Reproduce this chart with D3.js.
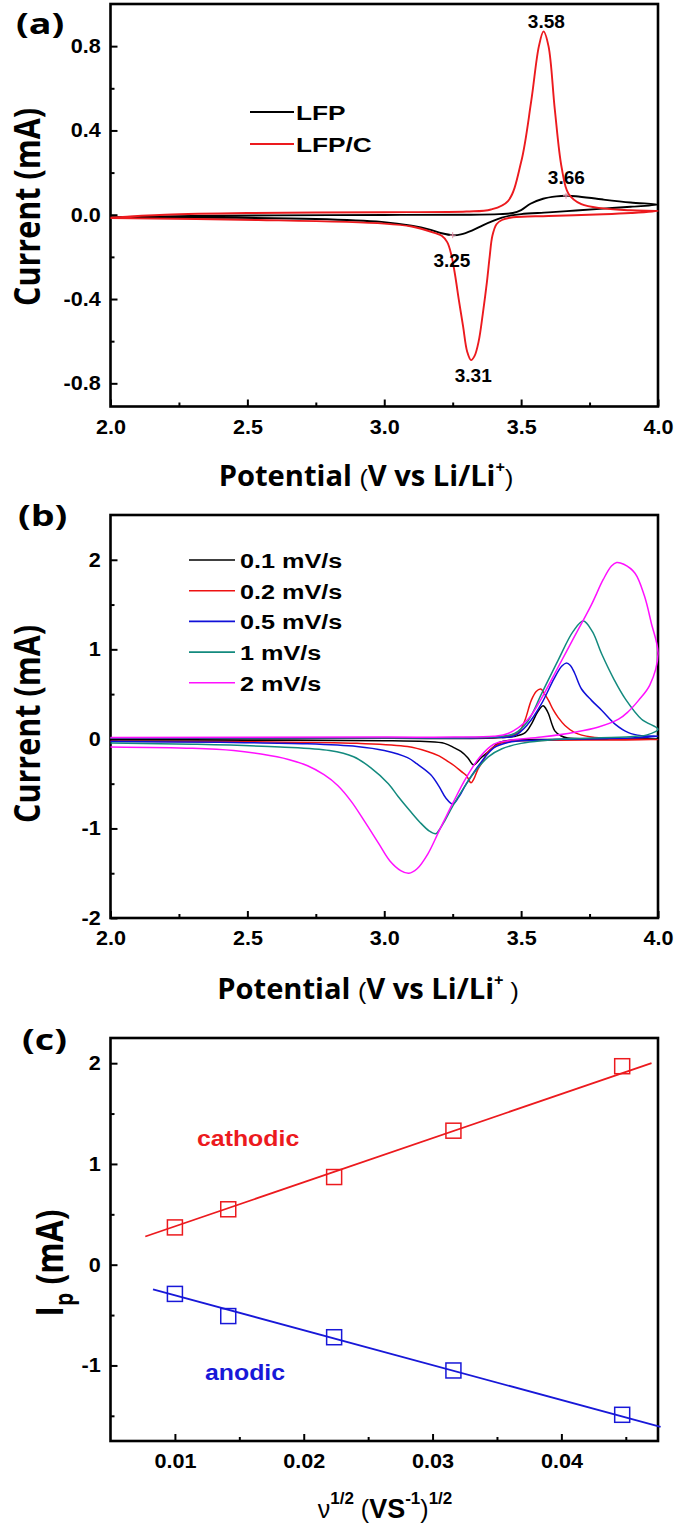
<!DOCTYPE html>
<html><head><meta charset="utf-8">
<script src="https://cdn.jsdelivr.net/npm/d3@7"></script>
<style>body{margin:0;background:#fff}</style>
</head><body><svg id="c" width="675" height="1529" xmlns="http://www.w3.org/2000/svg"></svg>
<script>
// ---------- DATA ----------
const cvXTicks = [2.0, 2.5, 3.0, 3.5, 4.0];
const cvXMinor = [2.25, 2.75, 3.25, 3.75];
const aYTicks = [-0.8, -0.4, 0.0, 0.4, 0.8];
const aYMinor = [-0.6, -0.2, 0.2, 0.6];
const bYTicks = [-2, -1, 0, 1, 2];
const bYMinor = [-1.5, -0.5, 0.5, 1.5];
const cXTicks = [0.01, 0.02, 0.03, 0.04];
const cXMinor = [0.015, 0.025, 0.035, 0.045];
const cYTicks = [-1, 0, 1, 2];
const cYMinor = [-1.5, -0.5, 0.5, 1.5];

// Panel (a): [potential V, current mA], forward sweep then reverse sweep
const lfp = [[2.0,-0.012],[2.3,-0.006],[2.6,-0.003],[3.0,-0.001],[3.3,0.0],[3.42,0.003],[3.47,0.008],[3.5,0.022],[3.534,0.052],[3.58,0.076],[3.629,0.087],[3.664,0.09],[3.7,0.088],[3.8,0.072],[3.9,0.058],[4.0,0.048],
  [3.9,0.038],[3.8,0.029],[3.7,0.02],[3.6,0.011],[3.5,0.003],[3.46,-0.004],[3.43,-0.014],[3.40,-0.028],[3.36,-0.05],[3.32,-0.075],[3.28,-0.093],[3.25,-0.097],[3.21,-0.088],[3.17,-0.072],[3.1,-0.052],[2.99,-0.034],[2.75,-0.02],[2.4,-0.014],[2.0,-0.012]];
const lfpC = [[2.0,-0.014],[2.2,0.0],[2.5,0.008],[3.0,0.012],[3.3,0.015],[3.39,0.025],[3.452,0.065],[3.50,0.25],[3.537,0.54],[3.565,0.8],[3.582,0.87],[3.6,0.8],[3.623,0.5],[3.648,0.224],[3.673,0.1],[3.72,0.05],[3.8,0.03],[3.9,0.021],[4.0,0.018],
  [3.9,0.008],[3.8,0.002],[3.6,-0.006],[3.47,-0.012],[3.43,-0.025],[3.41,-0.045],[3.395,-0.1],[3.385,-0.2],[3.375,-0.32],[3.36,-0.47],[3.345,-0.6],[3.33,-0.67],[3.317,-0.69],[3.303,-0.65],[3.288,-0.53],[3.272,-0.4],[3.258,-0.28],[3.245,-0.19],[3.23,-0.13],[3.21,-0.1],[3.18,-0.085],[3.1,-0.056],[3.0,-0.042],[2.54,-0.025],[2.0,-0.016]];
const aSeries = ["LFP", "LFP/C"];
const peakText = ["3.58", "3.66", "3.25", "3.31"];
const peakTextAt = [[3.592,0.885],[3.665,0.145],[3.247,-0.247],[3.325,-0.794]];
const peakMarks = [[3.25,-0.097],[3.664,0.09]];

// Panel (b): scan rates
const bSeries = ["0.1 mV/s", "0.2 mV/s", "0.5 mV/s", "1 mV/s", "2 mV/s"];
const cv01 = [[2.0,0.005],[3.0,0.006],[3.4,0.01],[3.48,0.03],[3.515,0.07],[3.54,0.18],[3.56,0.3],[3.58,0.37],[3.59,0.34],[3.6,0.28],[3.612,0.17],[3.623,0.09],[3.645,0.035],[3.67,0.01],[3.8,0.002],[4.0,0.0],
  [3.8,-0.003],[3.6,-0.006],[3.46,-0.015],[3.42,-0.04],[3.403,-0.08],[3.378,-0.15],[3.354,-0.21],[3.326,-0.29],[3.305,-0.21],[3.28,-0.14],[3.256,-0.1],[3.22,-0.05],[3.15,-0.03],[3.0,-0.02],[2.5,-0.015],[2.0,-0.012]];
const cv02 = [[2.0,0.008],[3.0,0.01],[3.4,0.015],[3.45,0.03],[3.49,0.07],[3.513,0.2],[3.537,0.43],[3.555,0.53],[3.572,0.557],[3.586,0.5],[3.6,0.43],[3.618,0.32],[3.635,0.24],[3.66,0.15],[3.696,0.07],[3.757,0.02],[3.85,0.003],[4.0,-0.008],
  [3.8,-0.012],[3.6,-0.016],[3.47,-0.025],[3.427,-0.045],[3.40,-0.09],[3.378,-0.15],[3.36,-0.25],[3.342,-0.34],[3.327,-0.45],[3.317,-0.49],[3.3,-0.41],[3.28,-0.36],[3.256,-0.3],[3.232,-0.25],[3.2,-0.19],[3.158,-0.14],[3.085,-0.085],[2.9,-0.05],[2.5,-0.032],[2.0,-0.025]];
const cv05 = [[2.0,0.01],[3.0,0.012],[3.4,0.016],[3.476,0.035],[3.525,0.165],[3.574,0.39],[3.62,0.67],[3.648,0.81],[3.665,0.846],[3.68,0.82],[3.696,0.73],[3.72,0.56],[3.757,0.43],[3.794,0.32],[3.843,0.165],[3.892,0.07],[3.94,0.036],[4.0,0.03],
  [3.9,0.01],[3.7,-0.002],[3.55,-0.015],[3.452,-0.04],[3.40,-0.1],[3.354,-0.26],[3.30,-0.5],[3.272,-0.65],[3.25,-0.727],[3.225,-0.66],[3.2,-0.53],[3.17,-0.40],[3.12,-0.28],[3.085,-0.21],[3.0,-0.13],[2.9,-0.085],[2.718,-0.055],[2.4,-0.038],[2.0,-0.03]];
const cv1 = [[2.0,0.012],[3.0,0.014],[3.33,0.015],[3.43,0.03],[3.476,0.06],[3.525,0.2],[3.574,0.5],[3.635,0.877],[3.69,1.2],[3.727,1.315],[3.76,1.2],[3.794,0.95],[3.84,0.66],[3.88,0.45],[3.94,0.22],[4.0,0.107],
  [3.96,0.045],[3.9,0.025],[3.7,0.004],[3.574,-0.02],[3.5,-0.05],[3.43,-0.11],[3.38,-0.2],[3.33,-0.37],[3.29,-0.55],[3.25,-0.75],[3.22,-0.92],[3.2,-1.02],[3.188,-1.06],[3.165,-1.03],[3.13,-0.93],[3.093,-0.8],[3.05,-0.64],[3.015,-0.5],[2.95,-0.32],[2.888,-0.2],[2.8,-0.13],[2.62,-0.09],[2.3,-0.06],[2.0,-0.046]];
const cv2 = [[2.0,0.015],[3.0,0.02],[3.256,0.02],[3.40,0.03],[3.452,0.06],[3.525,0.22],[3.574,0.45],[3.635,0.8],[3.696,1.15],[3.757,1.5],[3.8,1.78],[3.83,1.93],[3.849,1.97],[3.875,1.95],[3.916,1.85],[3.95,1.6],[3.975,1.3],[4.0,0.95],
  [3.97,0.6],[3.929,0.43],[3.89,0.3],[3.856,0.22],[3.78,0.13],[3.696,0.075],[3.574,0.02],[3.452,-0.02],[3.40,-0.06],[3.35,-0.2],[3.30,-0.43],[3.25,-0.72],[3.20,-1.03],[3.16,-1.28],[3.12,-1.45],[3.09,-1.5],[3.06,-1.47],[3.02,-1.36],[2.98,-1.17],[2.93,-0.93],[2.88,-0.7],[2.83,-0.52],[2.78,-0.4],[2.72,-0.3],[2.65,-0.23],[2.55,-0.17],[2.45,-0.13],[2.3,-0.105],[2.0,-0.09]];

// Panel (c): peak current vs square root of scan rate
const sqrtRate = [0.01, 0.01414, 0.02236, 0.03162, 0.04472];
const cathodicIp = [0.37, 0.55, 0.87, 1.33, 1.97];
const anodicIp = [-0.29, -0.51, -0.72, -1.05, -1.49];
const cathodicFit = [[0.0077, 0.28], [0.0470, 2.0]];
const anodicFit = [[0.0083, -0.245], [0.0477, -1.61]];

// ---------- DRAW ----------
const svg = d3.select("#c");
svg.append("rect").attr("width",675).attr("height",1529).attr("fill","#fff");

const TICKFONT = "'Liberation Sans', Arial, sans-serif";
const TITLEFONT = "'Open Sans', 'Noto Sans', sans-serif";
const L = 110.5, R = 658;
const fmt = f => (d => d3.format(f)(d).replace("\u2212", "-"));

function axes(x, y, top, bottom, xMaj, xMin, yMaj, yMin, xFmt, yFmt) {
  const gx = svg.append("g").attr("transform", `translate(0,${bottom})`)
    .call(d3.axisBottom(x).tickValues(xMaj).tickSize(-7).tickPadding(13).tickFormat(xFmt));
  const gx2 = svg.append("g").attr("transform", `translate(0,${bottom})`)
    .call(d3.axisBottom(x).tickValues(xMin).tickSize(-4).tickFormat(""));
  const gy = svg.append("g").attr("transform", `translate(${L},0)`)
    .call(d3.axisLeft(y).tickValues(yMaj).tickSize(-7).tickPadding(9).tickFormat(yFmt));
  const gy2 = svg.append("g").attr("transform", `translate(${L},0)`)
    .call(d3.axisLeft(y).tickValues(yMin).tickSize(-4).tickFormat(""));
  [gx, gx2, gy, gy2].forEach(g => {
    g.select(".domain").remove();
    g.selectAll("line").attr("stroke", "#000").attr("stroke-width", 2);
    g.selectAll("text").attr("font-family", TICKFONT).attr("font-weight", "bold")
      .attr("font-size", 20).attr("fill", "#000").attr("transform", "scale(1.08,1)");
  });
  svg.append("rect").attr("x", L).attr("y", top).attr("width", R - L).attr("height", bottom - top)
    .attr("fill", "none").attr("stroke", "#000").attr("stroke-width", 2.6);
}

function stext(x, y, sx, txt, size, family, weight, color, anchor) {
  return svg.append("text").attr("transform", `translate(${x},${y}) scale(${sx},1)`)
    .attr("font-family", family).attr("font-weight", weight).attr("font-size", size)
    .attr("fill", color || "#000").attr("text-anchor", anchor || "start").text(txt);
}

function panelLabel(t, x, y) {
  stext(x, y, 1.3, t, 29, TITLEFONT, "bold");
}

function yTitle(cx, cy, size, parts) {
  const t = svg.append("text").attr("transform", `translate(${cx},${cy}) scale(1.2,1) rotate(-90)`)
    .attr("text-anchor", "middle").attr("font-family", TITLEFONT).attr("font-weight", "bold")
    .attr("font-size", size).attr("fill", "#000");
  parts(t);
}

function potentialTitle(x, y, spaceBefore) {
  const t = stext(x, y, 1.04, null, 28, TITLEFONT, "bold", "#000", "middle");
  t.append("tspan").text("Potential ");
  t.append("tspan").text("(").attr("font-weight", "normal").attr("font-family", TICKFONT).attr("font-size", 24);
  t.append("tspan").text("V vs Li/Li");
  t.append("tspan").text("+").attr("font-size", 16).attr("dy", -13);
  t.append("tspan").text((spaceBefore ? " " : "") + ")").attr("font-weight", "normal").attr("font-family", TICKFONT)
    .attr("font-size", 24).attr("dy", 13);
}

// ----- Panel (a) -----
const xA = d3.scaleLinear().domain([2, 4]).range([L, R]);
const yA = d3.scaleLinear().domain([-0.91, 1.0]).range([406.5, 4]);
axes(xA, yA, 4, 406.5, cvXTicks, cvXMinor, aYTicks, aYMinor, fmt(".1f"), fmt(".1f"));
const lineA = d3.line().x(d => xA(d[0])).y(d => yA(d[1])).curve(d3.curveCatmullRom.alpha(0.5));
const aColors = ["#000000", "#ec1a1e"];
[lfp, lfpC].forEach((s, i) => {
  svg.append("path").attr("d", lineA(s)).attr("fill", "none").attr("stroke", aColors[i]).attr("stroke-width", 1.9);
});
peakMarks.forEach(p => {
  const px = xA(p[0]), py = yA(p[1]);
  svg.append("path").attr("d", `M${px-3},${py}H${px+3}M${px},${py-3}V${py+3}`).attr("stroke", "#e890a8").attr("stroke-width", 1);
});
peakText.forEach((t, i) => {
  stext(xA(peakTextAt[i][0]), yA(peakTextAt[i][1]), 1.0, t, 19, TICKFONT, "bold", "#000", "middle");
});
aSeries.forEach((n, i) => {
  const ly = 112 + i * 32;
  svg.append("line").attr("x1", 250).attr("x2", 294).attr("y1", ly).attr("y2", ly)
    .attr("stroke", aColors[i]).attr("stroke-width", 1.9);
  stext(296, ly + 8, 1.25, n, 21, TICKFONT, "bold");
});
panelLabel("(a)", 16, 34);
yTitle(40, 207, 30.5, t => t.text("Current (mA)"));
potentialTitle(366, 486, false);

// ----- Panel (b) -----
const yB = d3.scaleLinear().domain([-2, 2.5]).range([918, 515]);
const xB = xA.copy();
axes(xB, yB, 515, 918, cvXTicks, cvXMinor, bYTicks, bYMinor, fmt(".1f"), fmt("d"));
const lineB = d3.line().x(d => xB(d[0])).y(d => yB(d[1])).curve(d3.curveCatmullRom.alpha(0.5));
const bColors = ["#000000", "#ee1111", "#1010d8", "#138a7e", "#ff10ff"];
[cv01, cv02, cv05, cv1, cv2].forEach((s, i) => {
  svg.append("path").attr("d", lineB(s)).attr("fill", "none").attr("stroke", bColors[i]).attr("stroke-width", 1.5);
});
bSeries.forEach((n, i) => {
  const ly = 560 + i * 30.7;
  svg.append("line").attr("x1", 189).attr("x2", 235).attr("y1", ly).attr("y2", ly)
    .attr("stroke", bColors[i]).attr("stroke-width", 1.6);
  stext(240, ly + 8, 1.2, n, 21, TICKFONT, "bold");
});
panelLabel("(b)", 18, 526);
yTitle(40, 724, 30.5, t => t.text("Current (mA)"));
potentialTitle(368, 999, true);

// ----- Panel (c) -----
const xC = d3.scaleLinear().domain([0.005, 0.0475]).range([L, R]);
const yC = d3.scaleLinear().domain([-1.75, 2.25]).range([1441, 1038]);
axes(xC, yC, 1038, 1441, cXTicks, cXMinor, cYTicks, cYMinor, fmt(".2f"), fmt("d"));
const lineC = d3.line().x(d => xC(d[0])).y(d => yC(d[1]));
const cColors = ["#ec1a1e", "#1818d8"];
[cathodicFit, anodicFit].forEach((s, i) => {
  svg.append("path").attr("d", lineC(s)).attr("fill", "none").attr("stroke", cColors[i]).attr("stroke-width", 1.8);
});
[cathodicIp, anodicIp].forEach((vals, i) => {
  svg.selectAll(null).data(vals).enter().append("rect")
    .attr("x", (d, j) => xC(sqrtRate[j]) - 7.5).attr("y", d => yC(d) - 7.5)
    .attr("width", 15).attr("height", 15).attr("fill", "none")
    .attr("stroke", cColors[i]).attr("stroke-width", 1.5);
});
stext(197, 1146, 1.13, "cathodic", 22, TICKFONT, "bold", cColors[0]);
stext(205, 1380, 1.13, "anodic", 22, TICKFONT, "bold", cColors[1]);
panelLabel("(c)", 22, 1050);
yTitle(63, 1263, 32, t => {
  t.append("tspan").text("I");
  t.append("tspan").text("p").attr("font-size", 21).attr("dy", 8);
  t.append("tspan").text(" (mA)").attr("dy", -8);
});
{
  const t = svg.append("text").attr("x", 385).attr("y", 1518).attr("text-anchor", "middle")
    .attr("font-family", TICKFONT).attr("font-size", 25).attr("fill", "#000");
  t.append("tspan").text("\u03bd");
  t.append("tspan").text("1/2").attr("font-size", 17).attr("font-weight", "bold").attr("dy", -14);
  t.append("tspan").text(" (").attr("dy", 14);
  t.append("tspan").text("VS").attr("font-weight", "bold").attr("font-size", 27);
  t.append("tspan").text("-1").attr("font-size", 17).attr("font-weight", "bold").attr("dy", -14);
  t.append("tspan").text(")").attr("dy", 14);
  t.append("tspan").text("1/2").attr("font-size", 17).attr("font-weight", "bold").attr("dy", -14);
}
</script></body></html>
